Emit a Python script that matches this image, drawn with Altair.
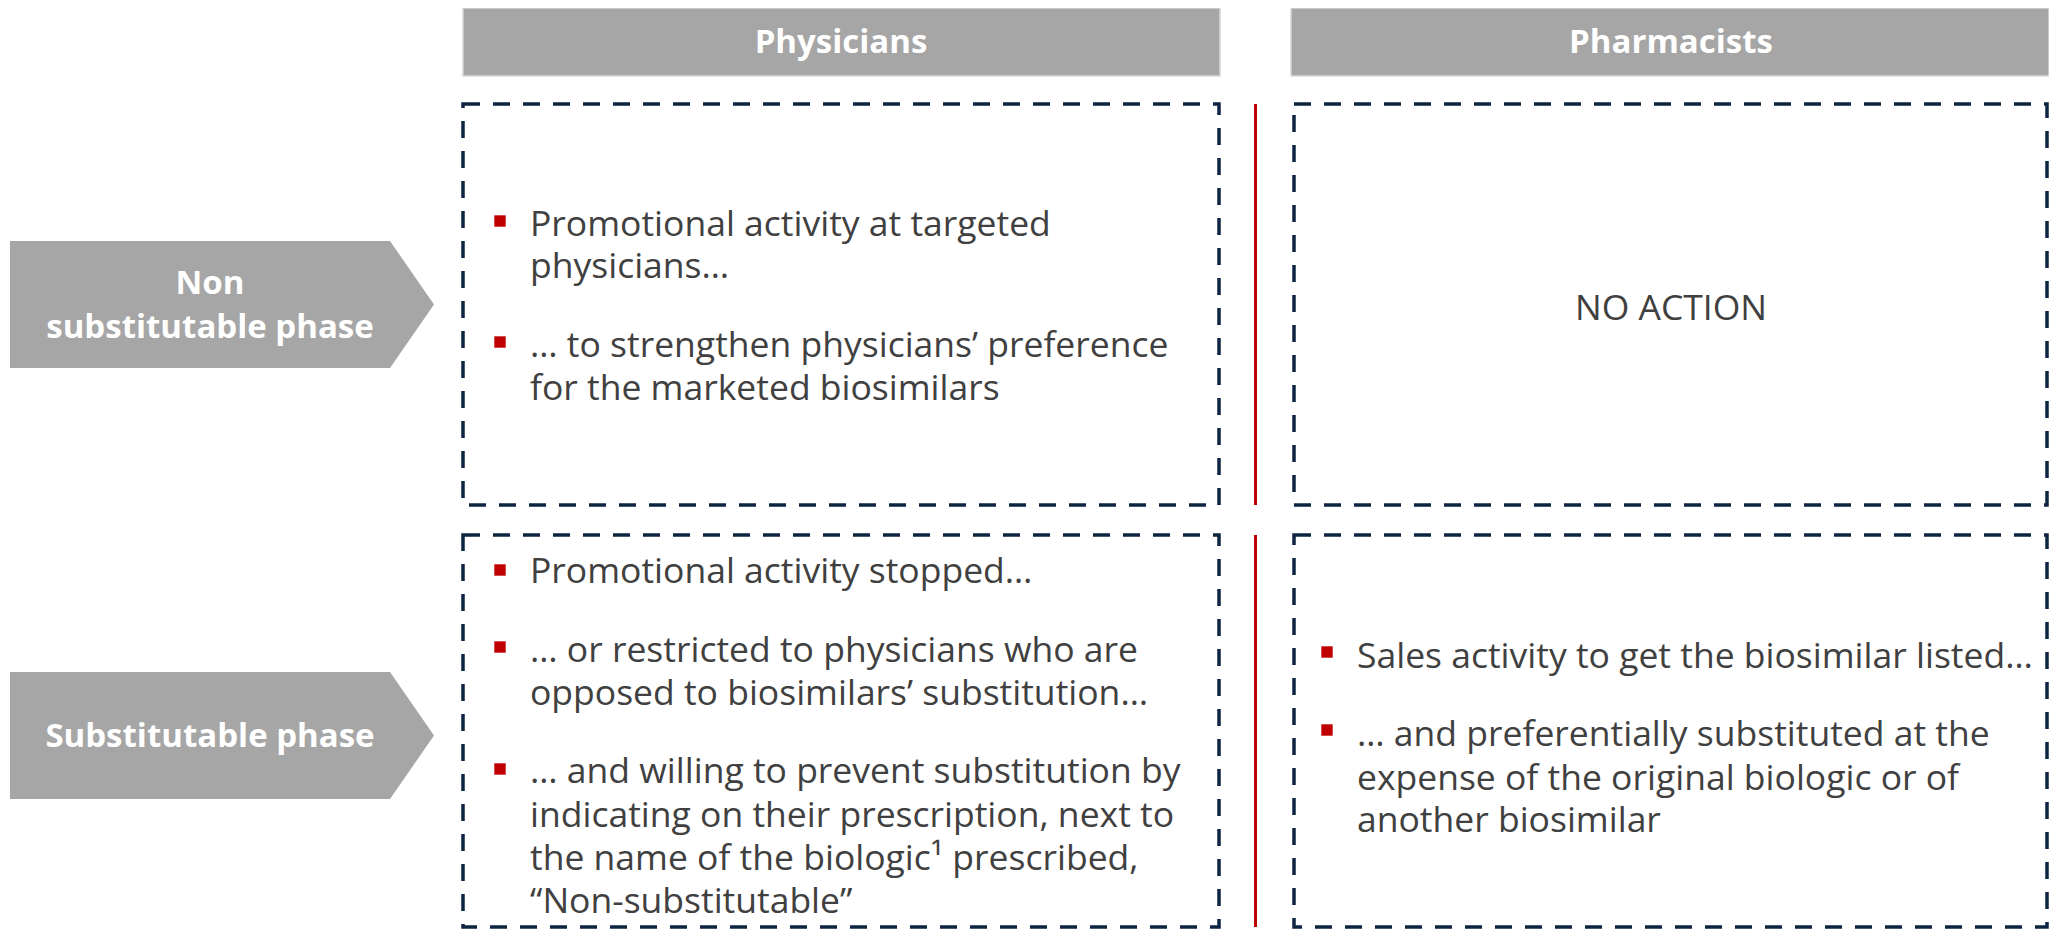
import altair as alt
import pandas as pd

# ---------------- data ----------------
HEADERS = ["Physicians", "Pharmacists"]
HEADER_X0 = [463, 1291]
HEADER_X1 = [1220, 2049]
HEADER_Y0 = [8, 8]
HEADER_Y1 = [76, 76]
HEADER_TEXT_X = [841, 1671]
HEADER_TEXT_Y = [53, 53]

BOX_NAMES = ["phys_top", "pharm_top", "phys_bottom", "pharm_bottom"]
BOX_X0 = [463, 1294, 463, 1294]
BOX_X1 = [1219, 2047, 1219, 2047]
BOX_Y0 = [104, 104, 535, 535]
BOX_Y1 = [505, 505, 927, 927]

DIVIDER_X = [1255.5, 1255.5]
DIVIDER_Y0 = [104, 535]
DIVIDER_Y1 = [505, 927]

PHASES = ["Non substitutable phase", "Substitutable phase"]
ARROW_X = [10, 390, 434]
ARROW_TOP = [[241, 241, 304.5], [672, 672, 735.5]]
ARROW_BOTTOM = [[368, 368, 304.5], [799, 799, 735.5]]

PHASE_LINES = ["Non", "substitutable phase", "Substitutable phase"]
PHASE_LINE_X = [210, 210, 210]
PHASE_LINE_Y = [294, 338, 747]

BULLET_X = [500, 500, 500, 500, 500, 1327, 1327]
BULLET_Y = [221, 342, 570, 647, 769, 652, 730]

BODY_LINES = [
    "Promotional activity at targeted",
    "physicians…",
    "… to strengthen physicians’ preference",
    "for the marketed biosimilars",
    "Promotional activity stopped…",
    "… or restricted to physicians who are",
    "opposed to biosimilars’ substitution…",
    "… and willing to prevent substitution by",
    "indicating on their prescription, next to",
    "the name of the biologic¹ prescribed,",
    "“Non-substitutable”",
    "Sales activity to get the biosimilar listed…",
    "… and preferentially substituted at the",
    "expense of the original biologic or of",
    "another biosimilar",
]
BODY_X = [530] * 11 + [1357] * 4
BODY_Y = [236, 278, 357, 400, 583, 662, 705, 783, 827, 870, 913, 668, 746, 790, 832]

NO_ACTION = ["NO ACTION"]
NO_ACTION_X = [1671]
NO_ACTION_Y = [320]

# ---------------- styles ----------------
GREY = "#A6A6A6"
NAVY = "#0E2541"
RED = "#C00000"
TEXT = "#404040"
FONT = "Open Sans"

W, H = 2041, 921
xs = alt.Scale(domain=[8, 8 + W], range=[0, W], nice=False, zero=False)
ys = alt.Scale(domain=[8, 8 + H], range=[0, H], nice=False, zero=False)


def X(f="x"):
    return alt.X(f"{f}:Q", scale=xs, axis=None)


def Y(f="y"):
    return alt.Y(f"{f}:Q", scale=ys, axis=None)


headers = pd.DataFrame({"name": HEADERS, "x": HEADER_X0, "x2": HEADER_X1,
                        "y": HEADER_Y0, "y2": HEADER_Y1,
                        "tx": HEADER_TEXT_X, "ty": HEADER_TEXT_Y})
boxes = pd.DataFrame({"name": BOX_NAMES, "x": BOX_X0, "x2": BOX_X1, "y": BOX_Y0, "y2": BOX_Y1})
dividers = pd.DataFrame({"x": DIVIDER_X, "y": DIVIDER_Y0, "y2": DIVIDER_Y1})

arrow_rows = []
for i, p in enumerate(PHASES):
    for j, xv in enumerate(ARROW_X):
        arrow_rows.append({"phase": p, "x": xv, "y": ARROW_TOP[i][j], "y2": ARROW_BOTTOM[i][j]})
arrows = pd.DataFrame(arrow_rows)

phase_text = pd.DataFrame({"t": PHASE_LINES, "x": PHASE_LINE_X, "y": PHASE_LINE_Y})
bullets = pd.DataFrame({"x": BULLET_X, "y": BULLET_Y})
body = pd.DataFrame({"t": BODY_LINES, "x": BODY_X, "y": BODY_Y})
noact = pd.DataFrame({"t": NO_ACTION, "x": NO_ACTION_X, "y": NO_ACTION_Y})

header_rects = alt.Chart(headers).mark_rect(fill=GREY, stroke="#D6D6D6", strokeWidth=1.5).encode(
    x=X(), x2="x2:Q", y=Y(), y2="y2:Q")
header_text = alt.Chart(headers).mark_text(
    font=FONT, fontSize=33, fontWeight="bold", color="white", align="center", baseline="alphabetic"
).encode(x=X("tx"), y=Y("ty"), text="name:N")

box_rects = alt.Chart(boxes).mark_rect(
    fillOpacity=0, stroke=NAVY, strokeWidth=3.5, strokeDash=[17, 13]
).encode(x=X(), x2="x2:Q", y=Y(), y2="y2:Q")

divider_rules = alt.Chart(dividers).mark_rule(color=RED, strokeWidth=3).encode(
    x=X(), y=Y(), y2="y2:Q")

arrow_areas = alt.Chart(arrows).mark_area(color=GREY, orient="vertical", opacity=1).encode(
    x=X(), y=Y(), y2="y2:Q", detail="phase:N")

phase_labels = alt.Chart(phase_text).mark_text(
    font=FONT, fontSize=33, fontWeight="bold", color="white", align="center", baseline="alphabetic"
).encode(x=X(), y=Y(), text="t:N")

bullet_marks = alt.Chart(bullets).mark_point(
    shape="square", filled=True, color=RED, size=130, opacity=1
).encode(x=X(), y=Y())

body_text = alt.Chart(body).mark_text(
    font=FONT, fontSize=35.5, color=TEXT, align="left", baseline="alphabetic"
).encode(x=X(), y=Y(), text="t:N")

noact_text = alt.Chart(noact).mark_text(
    font=FONT, fontSize=35.5, color=TEXT, align="center", baseline="alphabetic"
).encode(x=X(), y=Y(), text="t:N")

chart = alt.layer(
    header_rects, header_text, box_rects, divider_rules, arrow_areas, phase_labels,
    bullet_marks, body_text, noact_text
).properties(
    width=W, height=H, padding=0, autosize=alt.AutoSizeParams(type="none"), background="white"
).configure_view(strokeWidth=0)

chart.save("out.html", embed_options={"renderer": "svg", "actions": False})
